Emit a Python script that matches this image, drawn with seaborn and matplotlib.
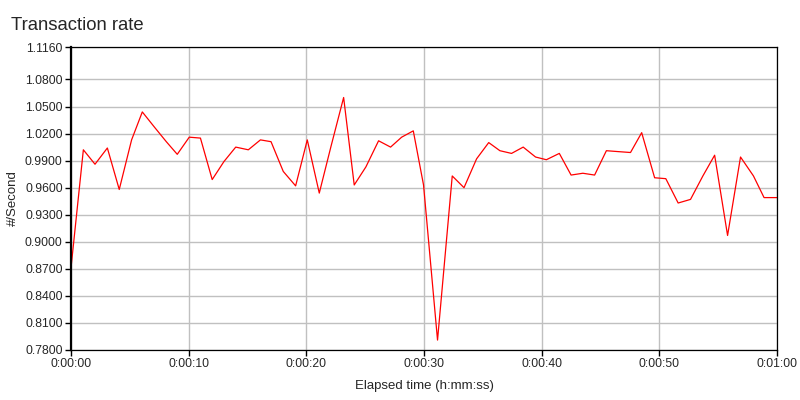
import matplotlib
matplotlib.use("Agg")
import matplotlib.pyplot as plt
import matplotlib.ticker as mticker
import pandas as pd
import seaborn as sns

# elapsed seconds and transaction rate
elapsed_s = [0.0, 1.05, 2.04, 3.09, 4.1, 5.15, 6.06, 7.1, 8.1, 9.03,
             10.05, 11.0, 12.0, 13.0, 14.0, 15.07, 16.1, 17.0, 18.04, 19.09,
             20.08, 21.1, 22.1, 23.17, 24.07, 25.06, 26.14, 27.16, 28.1, 29.09,
             29.96, 31.15, 32.4, 33.4, 34.47, 35.5, 36.45, 37.44, 38.43, 39.48,
             40.4, 41.5, 42.5, 43.5, 44.5, 45.5, 46.5, 47.55, 48.5, 49.6,
             50.55, 51.6, 52.65, 53.7, 54.7, 55.8, 56.9, 58.0, 58.9, 60.0]
rate = [0.871, 1.002, 0.986, 1.004, 0.958, 1.013, 1.044, 1.027, 1.011, 0.997,
        1.016, 1.015, 0.969, 0.989, 1.005, 1.002, 1.013, 1.011, 0.978, 0.962,
        1.013, 0.954, 1.006, 1.060, 0.963, 0.983, 1.012, 1.005, 1.016, 1.023,
        0.963, 0.791, 0.973, 0.960, 0.992, 1.010, 1.001, 0.998, 1.005, 0.994,
        0.991, 0.998, 0.974, 0.976, 0.974, 1.001, 1.000, 0.999, 1.021, 0.971,
        0.970, 0.943, 0.947, 0.973, 0.996, 0.907, 0.994, 0.973, 0.949, 0.949]

y_ticks = [0.78, 0.81, 0.84, 0.87, 0.90, 0.93, 0.96, 0.99, 1.02, 1.05, 1.08, 1.116]
x_ticks = [0, 10, 20, 30, 40, 50, 60]

df = pd.DataFrame({'elapsed': elapsed_s, 'rate': rate})

sns.set_style('white')
plt.rcParams['font.family'] = ['Liberation Sans', 'DejaVu Sans']

fig = plt.figure(figsize=(8, 4), dpi=100)
ax = fig.add_axes([0.08875, 0.125, 0.8825, 0.7575])

sns.lineplot(data=df, x='elapsed', y='rate', ax=ax, color='#ff0000', linewidth=0.9)

ax.set_xlim(0, 60)
ax.set_ylim(0.78, 1.116)
ax.set_xticks(x_ticks)
ax.set_yticks(y_ticks)

def hms(s, pos=None):
    s = int(round(s))
    return '%d:%02d:%02d' % (s // 3600, (s // 60) % 60, s % 60)

ax.xaxis.set_major_formatter(mticker.FuncFormatter(hms))
ax.yaxis.set_major_formatter(mticker.FormatStrFormatter('%.4f'))

ax.grid(True, color='#c0c0c0', linewidth=1)
ax.set_axisbelow(True)
for side in ['top', 'right', 'bottom']:
    ax.spines[side].set_color('black')
    ax.spines[side].set_linewidth(0.9)
ax.spines['left'].set_color('black')
ax.spines['left'].set_linewidth(1.6)

ax.tick_params(axis='both', direction='out', length=4, width=1, color='black',
               labelsize=8.8, pad=2, left=True, bottom=True)

ax.set_xlabel('Elapsed time (h:mm:ss)', fontsize=9.5, labelpad=7)
ax.set_ylabel('#/Second', fontsize=9.5, labelpad=4)

fig.text(0.014, 0.925, 'Transaction rate', fontsize=13.3, ha='left', va='baseline')

plt.savefig('out.png', dpi=100, facecolor='white')
